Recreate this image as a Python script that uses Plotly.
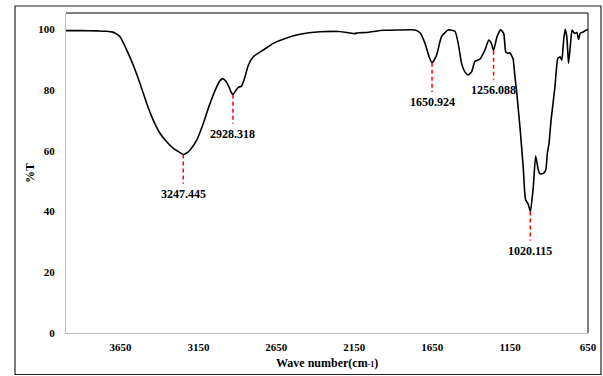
import plotly.graph_objects as go

# Spectrum (wavenumber in cm-1, transmittance %)
wavenumber = [4000, 3900, 3800, 3740, 3700, 3680, 3653, 3610, 3568, 3525, 3482, 3440, 3397, 3354,
              3311, 3280, 3247, 3225, 3204, 3161, 3119, 3076, 3033, 3010, 2994, 2975, 2958, 2940,
              2928, 2915, 2894, 2873, 2851, 2830, 2798, 2734, 2670, 2584, 2498, 2370, 2250, 2177,
              2150, 2120, 2070, 1963, 1860, 1760, 1728, 1696, 1670, 1650, 1622, 1590, 1548, 1504,
              1483, 1461, 1440, 1419, 1397, 1376, 1344, 1312, 1287, 1270, 1256, 1234, 1210, 1191,
              1178, 1163, 1151, 1142, 1131, 1119, 1109, 1087, 1066, 1051, 1034, 1020, 1001, 986,
              969, 958, 936, 921, 911, 900, 887, 862, 844, 829, 818, 808, 797, 786, 775, 764,
              752, 737, 721, 711, 700, 679, 661, 650]
transmittance = [99.6, 99.6, 99.5, 99.4, 99.1, 98.6, 97.6, 93.2, 88.2, 82.2, 75.6, 70.1, 65.8, 63.0,
                 60.8, 59.8, 58.8, 59.3, 60.3, 63.5, 69.0, 75.6, 81.1, 83.2, 83.8, 83.0, 81.5, 79.3,
                 78.5, 79.5, 80.9, 81.3, 84.4, 88.2, 91.0, 93.2, 95.4, 97.2, 98.4, 99.2, 99.3, 98.8,
                 98.6, 98.9, 99.0, 99.7, 99.8, 99.8, 98.9, 95.4, 91.0, 89.0, 91.5, 97.6, 99.8, 99.4,
                 95.4, 88.8, 86.0, 85.0, 86.0, 89.4, 90.2, 93.2, 96.5, 95.4, 93.0, 97.6, 99.9, 98.7,
                 92.6, 92.1, 92.3, 91.5, 90.4, 84.5, 80.0, 68.0, 54.8, 44.0, 42.5, 40.0, 48.2, 58.3,
                 53.7, 52.4, 52.6, 53.7, 59.2, 62.5, 70.1, 81.1, 90.4, 91.0, 89.9, 95.4, 100.0, 97.6,
                 88.8, 94.3, 99.8, 98.7, 99.0, 96.7, 98.7, 99.2, 99.8, 100.0]

# Peak labels
peak_wn = [3247.445, 2928.318, 1650.924, 1256.088, 1020.115]
peak_t = [58.8, 78.5, 89.0, 93.0, 40.0]
peak_labels = ["3247.445", "2928.318", "1650.924", "1256.088", "1020.115"]

x_ticks = [3650, 3150, 2650, 2150, 1650, 1150, 650]
y_ticks = [0, 20, 40, 60, 80, 100]

FONT = "Liberation Serif, Times New Roman, serif"
DROP = 9.6  # length of dashed marker line (in %T units)

fig = go.Figure()
fig.add_trace(go.Scatter(x=wavenumber, y=transmittance, mode="lines",
                         line=dict(color="black", width=1.6, shape="spline", smoothing=0.5),
                         showlegend=False, hoverinfo="skip"))

for wn, t, lab in zip(peak_wn, peak_t, peak_labels):
    fig.add_shape(type="line", xref="x", yref="y", x0=wn, x1=wn, y0=t, y1=t - DROP,
                  line=dict(color="red", width=1.5, dash="4px,3px"))
    fig.add_annotation(x=wn, y=t - DROP, xref="x", yref="y", text=lab, showarrow=False,
                       yanchor="middle", xanchor="center", yshift=-10,
                       font=dict(family=FONT, size=12, color="black", weight="bold"))

# axis titles
fig.add_annotation(x=0.5, y=-0.093, xref="paper", yref="paper", showarrow=False,
                   xanchor="center", yanchor="middle",
                   text="Wave number(cm<span style='font-size:8px'>-1</span>)",
                   font=dict(family=FONT, size=12, color="black", weight="bold"))
fig.add_annotation(x=-0.069, y=0.5, xref="paper", yref="paper", showarrow=False,
                   xanchor="center", yanchor="middle", textangle=-90, text="%T",
                   font=dict(family=FONT, size=12, color="black", weight="bold"))

# plot frame top & right (black)
fig.add_shape(type="line", xref="paper", yref="paper", x0=0, x1=1, y0=1, y1=1,
              line=dict(color="black", width=1))
fig.add_shape(type="line", xref="paper", yref="paper", x0=1, x1=1, y0=0, y1=1,
              line=dict(color="black", width=1))
# outer border
fig.add_shape(type="rect", xref="paper", yref="paper", x0=-0.0977, x1=1.0249,
              y0=-0.1297, y1=1.0219, line=dict(color="#222222", width=1.2))

fig.update_layout(
    width=603, height=376,
    margin=dict(l=66, r=15, t=13, b=43, autoexpand=False),
    paper_bgcolor="white", plot_bgcolor="white",
    font=dict(family=FONT, color="black"),
    xaxis=dict(range=[4000, 650], tickvals=x_ticks, ticktext=[str(v) for v in x_ticks],
               showgrid=False, zeroline=False, showline=True, linecolor="#bfbfbf",
               linewidth=1, ticks="", ticklabelstandoff=4, automargin=False,
               tickfont=dict(family=FONT, size=11, color="black", weight="bold")),
    yaxis=dict(range=[0, 105.4], tickvals=y_ticks, showgrid=False, zeroline=False,
               showline=True, linecolor="#bfbfbf", linewidth=1, ticks="",
               ticklabelstandoff=8, automargin=False,
               tickfont=dict(family=FONT, size=11, color="black", weight="bold")),
)

fig.write_html("out.html")
